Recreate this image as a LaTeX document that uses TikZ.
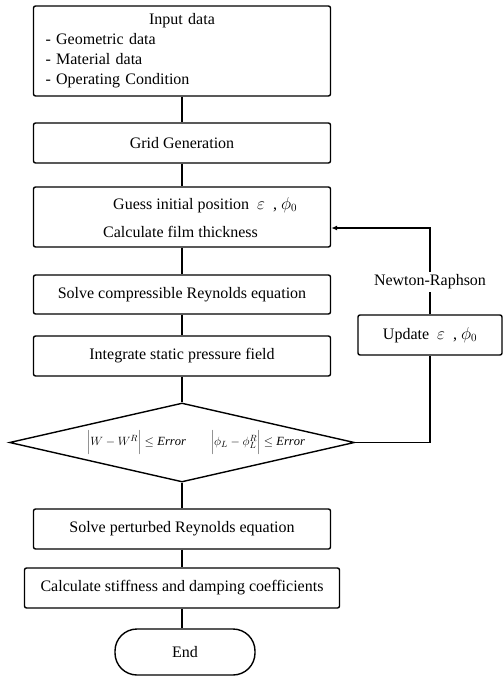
\documentclass[tikz,border=0pt]{standalone}
\usepackage{fontspec}
\setmainfont{Liberation Serif}
\usetikzlibrary{shapes.geometric,arrows.meta}
\tikzset{
  box/.style={draw, line width=1.4pt, rounded corners=2pt, minimum width=297pt, minimum height=40pt, inner sep=0pt, font=\fontsize{16}{20}\selectfont},
  txt/.style={inner sep=0pt, font=\fontsize{16}{20}\selectfont},
  link/.style={line width=1.4pt},
  decision/.style={draw, line width=1.4pt, diamond, aspect=4.37, minimum width=345pt, minimum height=79pt, inner sep=0pt},
  terminal/.style={draw, line width=1.4pt, rounded corners=22pt, minimum width=140pt, minimum height=46pt, inner sep=0pt, font=\fontsize{16}{20}\selectfont}
}
\begin{document}
\begin{tikzpicture}[x=1pt,y=-1pt]
\useasboundingbox (0,0) rectangle (503,677);
\node[box, minimum height=90pt, text width=273pt, align=left] (input) at (182,51)
  {\makebox[273pt]{Input data}\\- Geometric data\\- Material data\\- Operating Condition};
\node[box] (grid) at (182,143) {Grid Generation};
\node[box, minimum height=60pt] (guess) at (182,217) {};
\node[txt, anchor=west] (guess1) at (113,205) {Guess initial position \ $\varepsilon$ \ , $\phi_{0}$};
\node[txt, anchor=west] (guess2) at (103,232) {Calculate film thickness};
\node[box, minimum height=39pt] (solve) at (182,294.5) {Solve compressible Reynolds equation};
\node[box] (integ) at (182,356) {Integrate static pressure field};
\node[decision] (dec) at (182,442.5) {};
\node[inner sep=0pt, font=\fontsize{12.5}{15}\selectfont] (dectext) at (196,442.5)
  {$\biggl|W - W^{R}\biggr| \le \mathit{Error}$\qquad $\biggl|\phi_{L} - \phi_{L}^{R}\biggr| \le \mathit{Error}$};
\node[box] (pert) at (182,529) {Solve perturbed Reynolds equation};
\node[box, minimum width=315pt] (stiff) at (182,588) {Calculate stiffness and damping coefficients};
\node[terminal] (end) at (185,652) {End};
\node[box, minimum width=144pt] (upd) at (430,335) {Update \ $\varepsilon$ \ , $\phi_{0}$};
\coordinate (nrtop) at (430,228);
\coordinate (loopbot) at (430,442.5);

\draw[link] (input) -- (grid);
\draw[link] (grid) -- (guess);
\draw[link] (guess) -- (solve);
\draw[link] (solve) -- (integ);
\draw[link] (integ) -- (dec);
\draw[link] (dec) -- (pert);
\draw[link] (pert) -- (stiff);
\draw[link] (stiff.south) -- (stiff.south |- end.north);
\draw[link] (dec.east) -- (loopbot) -- (upd.south);
\draw[link, -{Latex[length=6pt,width=5pt]}] (upd.north) -- (nrtop) -- (nrtop -| guess.east);
\node[txt, fill=white, inner ysep=3pt] (nr) at (430,282) {Newton-Raphson};
\end{tikzpicture}
\end{document}
